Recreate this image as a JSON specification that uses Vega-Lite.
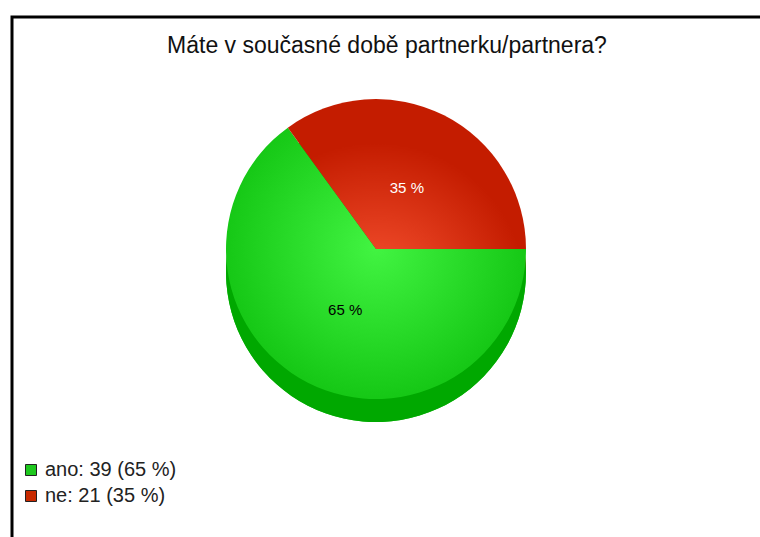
{
  "$schema": "https://vega.github.io/schema/vega-lite/v6.json",
  "width": 750,
  "height": 522,
  "padding": {"left": 10, "top": 15, "right": 0, "bottom": 0},
  "background": "#ffffff",
  "config": {
    "view": {"stroke": null},
    "font": "Liberation Sans"
  },
  "title": {
    "text": "Máte v současné době partnerku/partnera?",
    "font": "Liberation Sans",
    "fontSize": 23,
    "fontWeight": "normal",
    "color": "#111111",
    "anchor": "middle",
    "frame": "group",
    "baseline": "alphabetic",
    "offset": -41,
    "dy": 19
  },
  "data": {
    "values": [
      {"odpoved": "ano", "pocet": 39, "podil": "65 %", "popisek": "ano: 39 (65 %)"},
      {"odpoved": "ne", "pocet": 21, "podil": "35 %", "popisek": "ne: 21 (35 %)"}
    ]
  },
  "layer": [
    {
      "data": {"values": [{"ramecek": "okraj"}]},
      "mark": {"type": "rect", "fill": null, "stroke": "#000000", "strokeWidth": 3, "strokeDash": [750, 1272, 522]},
      "encoding": {}
    },
    {
      "mark": {"type": "arc", "outerRadius": 150, "xOffset": -11, "yOffset": -6},
      "encoding": {
        "theta": {"field": "pocet", "type": "quantitative", "stack": true, "scale": {"range": [-0.6283, 5.6549]}},
        "order": {"field": "odpoved", "sort": "descending"},
        "color": {
          "field": "popisek",
          "type": "nominal",
          "scale": {"domain": ["ano: 39 (65 %)", "ne: 21 (35 %)"], "range": ["#1ec81e", "#c82a00"]},
          "legend": {
            "title": null,
            "orient": "none",
            "legendX": 9,
            "legendY": 443,
            "symbolType": "square",
            "symbolSize": 121,
            "symbolStrokeColor": "#222222",
            "symbolStrokeWidth": 1,
            "labelFont": "Liberation Sans",
            "labelFontSize": 20,
            "labelColor": "#222222",
            "labelOffset": 4,
            "rowPadding": 6,
            "padding": 0
          }
        }
      }
    },
    {
      "mark": {"type": "arc", "outerRadius": 150, "xOffset": -11, "yOffset": -6},
      "encoding": {
        "theta": {"field": "pocet", "type": "quantitative", "stack": true},
        "order": {"field": "odpoved", "sort": "descending"},
        "color": {"value": "#00a800"}
      }
    },
    {
      "mark": {"type": "arc", "outerRadius": 150, "xOffset": -11, "yOffset": -29},
      "encoding": {
        "theta": {"field": "pocet", "type": "quantitative", "stack": true},
        "order": {"field": "odpoved", "sort": "descending"},
        "color": {
          "condition": {
            "test": "datum.odpoved === 'ano'",
            "value": {
              "gradient": "radial",
              "x1": 0.5, "y1": 0.447, "r1": 0,
              "x2": 0.5, "y2": 0.447, "r2": 0.5,
              "stops": [
                {"offset": 0, "color": "#42f442"},
                {"offset": 1, "color": "#16c816"}
              ]
            }
          },
          "value": {
            "gradient": "radial",
            "x1": 0.37, "y1": 1, "r1": 0,
            "x2": 0.37, "y2": 1, "r2": 0.63,
            "stops": [
              {"offset": 0, "color": "#fa5634"},
              {"offset": 1, "color": "#c41c00"}
            ]
          }
        }
      }
    },
    {
      "mark": {"type": "text", "radius": 68, "xOffset": -11, "yOffset": -29, "font": "Liberation Sans", "fontSize": 15},
      "encoding": {
        "theta": {"field": "pocet", "type": "quantitative", "stack": true},
        "order": {"field": "odpoved", "sort": "descending"},
        "text": {"field": "podil", "type": "nominal"},
        "color": {"condition": {"test": "datum.odpoved === 'ne'", "value": "#ffffff"}, "value": "#000000"}
      }
    }
  ]
}
